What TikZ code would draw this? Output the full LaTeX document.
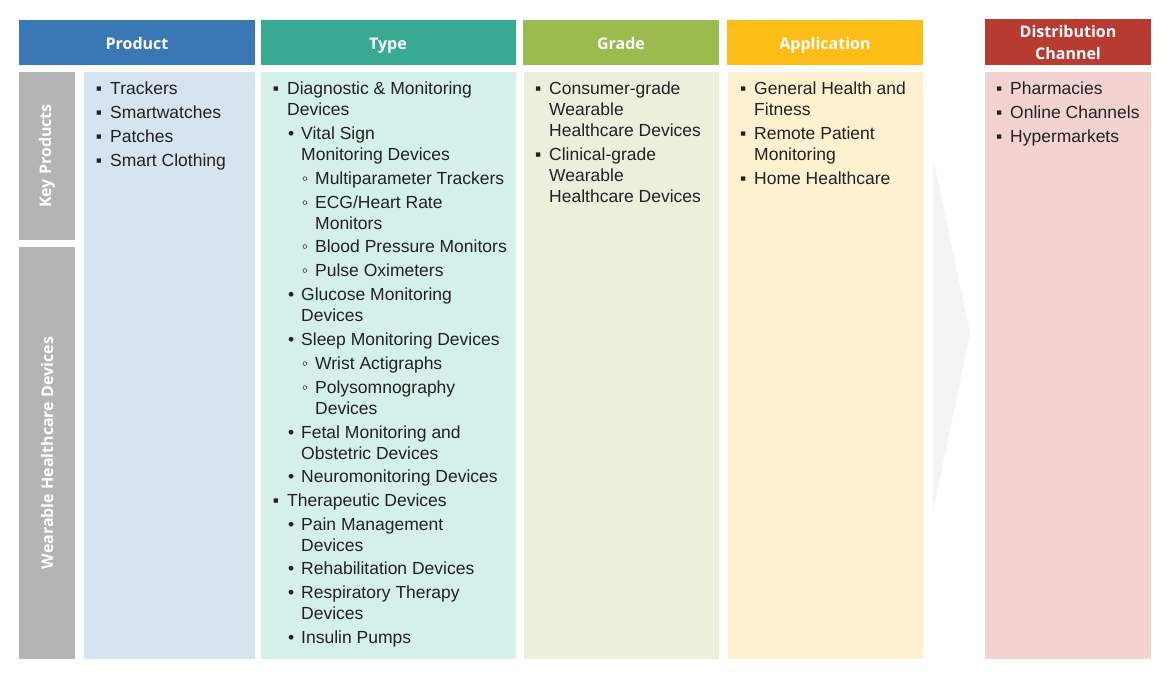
\documentclass[tikz,border=0pt]{standalone}
\usepackage{fontspec}
\setmainfont{Liberation Sans}
\newfontfamily\headfont{Open Sans}
\usepackage{xcolor}

\definecolor{prodhead}{HTML}{3A78B5}
\definecolor{prodbody}{HTML}{D6E4F0}
\definecolor{typehead}{HTML}{3AAB93}
\definecolor{typebody}{HTML}{D5EFE9}
\definecolor{gradehead}{HTML}{9BBB4F}
\definecolor{gradebody}{HTML}{EAF0DC}
\definecolor{apphead}{HTML}{FBBD16}
\definecolor{appbody}{HTML}{FEF1CF}
\definecolor{disthead}{HTML}{B83B32}
\definecolor{distbody}{HTML}{F3D3D2}
\definecolor{sidegray}{HTML}{B4B4B4}
\definecolor{chevron}{HTML}{F4F4F4}
\definecolor{itemtext}{HTML}{222222}

% bullets hang left of the text; the rule fixes the first line's height
\newcommand{\bsq}{\rule{0pt}{14pt}\llap{▪\hspace{8pt}}}
\newcommand{\bdot}{\rule{0pt}{14pt}\llap{•\hspace{7pt}}}
\newcommand{\bcirc}{\rule{0pt}{14pt}\llap{◦\hspace{7pt}}}

\tikzset{
  headtxt/.style={anchor=base, text=white, font=\headfont\bfseries\fontsize{16pt}{22pt}\selectfont, align=center},
  sidetxt/.style={text=white, font=\headfont\bfseries\fontsize{16pt}{20pt}\selectfont, rotate=90},
  itemtxt/.style={anchor=north west, inner sep=0pt, align=left, text=itemtext,
    font=\fontsize{17.5pt}{21pt}\selectfont}
}

\begin{document}
\begin{tikzpicture}[x=1pt,y=-1pt]
\useasboundingbox (0,0) rectangle (1170,678);

% headers
\fill[prodhead] (19,20) rectangle (255,65);
\fill[typehead] (261,20) rectangle (516,65);
\fill[gradehead] (523,20) rectangle (719,65);
\fill[apphead] (727,20) rectangle (923,65);
\fill[disthead] (985,19) rectangle (1151,65);

% column bodies
\fill[sidegray] (19,72) rectangle (75,240);
\fill[sidegray] (19,247) rectangle (75,659);
\fill[prodbody] (84,72) rectangle (255,659);
\fill[typebody] (261,72) rectangle (516,659);
\fill[gradebody] (524,72) rectangle (719,659);
\fill[appbody] (728,72) rectangle (923,659);
\fill[distbody] (985,72) rectangle (1151,659);

% chevron
\fill[chevron] (933,158) -- (970,333) -- (933,512) -- cycle;

\node[headtxt] (hprod) at (137,49) {Product};
\node[headtxt] (htype) at (388,49) {Type};
\node[headtxt] (hgrade) at (621,49) {Grade};
\node[headtxt] (happ) at (825,49) {Application};
\node[headtxt] (hdist) at (1068,59) {Distribution\\Channel};

\node[sidetxt] (skey) at (47,156) {Key Products};
\node[sidetxt] (swear) at (47,453) {Wearable Healthcare Devices};

% product (y = top of first line)
\node[itemtxt] (p1) at (110,80.5) {\bsq Trackers};
\node[itemtxt] (p2) at (110,104.5) {\bsq Smartwatches};
\node[itemtxt] (p3) at (110,128.5) {\bsq Patches};
\node[itemtxt] (p4) at (110,152.5) {\bsq Smart Clothing};

% type
\node[itemtxt] (t1) at (287,80.5) {\bsq Diagnostic \& Monitoring\\Devices};
\node[itemtxt] (t2) at (301,125.5) {\bdot Vital Sign\\Monitoring Devices};
\node[itemtxt] (t3) at (315,170.5) {\bcirc Multiparameter Trackers};
\node[itemtxt] (t4) at (315,194.5) {\bcirc ECG/Heart Rate\\Monitors};
\node[itemtxt] (t5) at (315,238.5) {\bcirc Blood Pressure Monitors};
\node[itemtxt] (t6) at (315,262.5) {\bcirc Pulse Oximeters};
\node[itemtxt] (t7) at (301,286.5) {\bdot Glucose Monitoring\\Devices};
\node[itemtxt] (t8) at (301,331.5) {\bdot Sleep Monitoring Devices};
\node[itemtxt] (t9) at (315,355.5) {\bcirc Wrist Actigraphs};
\node[itemtxt] (t10) at (315,379.5) {\bcirc Polysomnography\\Devices};
\node[itemtxt] (t11) at (301,424.5) {\bdot Fetal Monitoring and\\Obstetric Devices};
\node[itemtxt] (t12) at (301,468.5) {\bdot Neuromonitoring Devices};
\node[itemtxt] (t13) at (287,492.5) {\bsq Therapeutic Devices};
\node[itemtxt] (t14) at (301,516.5) {\bdot Pain Management\\Devices};
\node[itemtxt] (t15) at (301,560.5) {\bdot Rehabilitation Devices};
\node[itemtxt] (t16) at (301,584.5) {\bdot Respiratory Therapy\\Devices};
\node[itemtxt] (t17) at (301,629.5) {\bdot Insulin Pumps};

% grade
\node[itemtxt] (g1) at (549,80.5) {\bsq Consumer-grade\\Wearable\\Healthcare Devices};
\node[itemtxt] (g2) at (549,146.5) {\bsq Clinical-grade\\Wearable\\Healthcare Devices};

% application
\node[itemtxt] (a1) at (754,80.5) {\bsq General Health and\\Fitness};
\node[itemtxt] (a2) at (754,125.5) {\bsq Remote Patient\\Monitoring};
\node[itemtxt] (a3) at (754,170.5) {\bsq Home Healthcare};

% distribution channel
\node[itemtxt] (d1) at (1010,80.5) {\bsq Pharmacies};
\node[itemtxt] (d2) at (1010,104.5) {\bsq Online Channels};
\node[itemtxt] (d3) at (1010,128.5) {\bsq Hypermarkets};

\end{tikzpicture}
\end{document}
